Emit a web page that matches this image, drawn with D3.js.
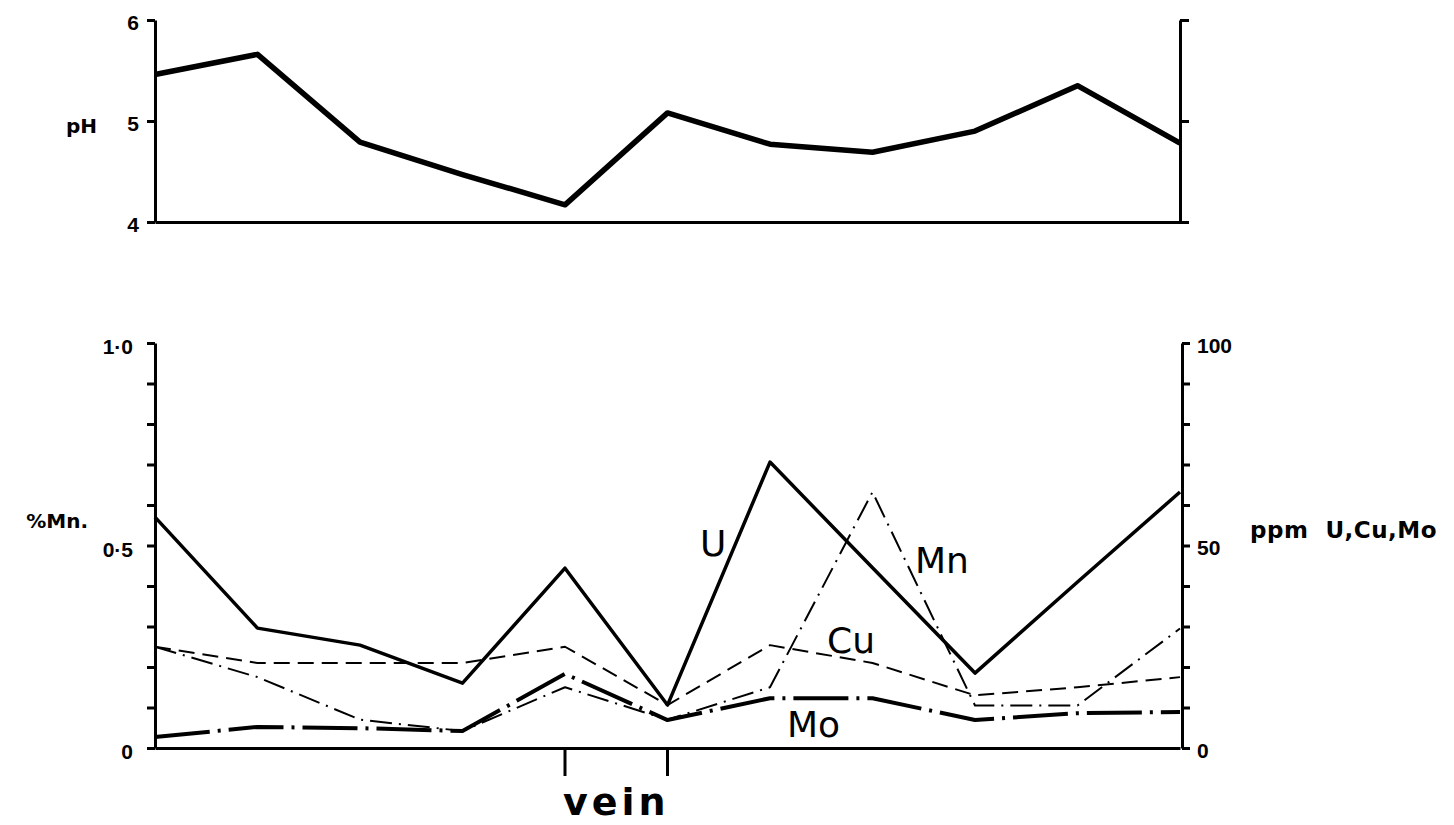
<!DOCTYPE html>
<html>
<head>
<meta charset="utf-8">
<script src="https://cdn.jsdelivr.net/npm/d3@7"></script>
<style>
  body { margin: 0; background: #fff; }
  svg { display: block; font-family: 'DejaVu Sans', sans-serif; }
  .axis path, .axis line { stroke: #000; stroke-width: 3; }
  .axis .tick text { font-size: 21px; font-weight: bold; fill: #000; }
  .label { font-size: 20px; font-weight: bold; fill: #000; }
  .series-label { font-size: 36px; fill: #000; }
</style>
</head>
<body>
<svg width="1454" height="825"></svg>
<script>
// sample stations along the traverse (vein between stations 5 and 6)
const samples = [1, 2, 3, 4, 5, 6, 7, 8, 9, 10, 11];
const veinStations = [5, 6];

const pH   = [5.46, 5.66, 4.79, 4.47, 4.17, 5.08, 4.77, 4.69, 4.90, 5.35, 4.78];
const uPpm = [57, 29.6, 25.4, 16, 44.4, 10.6, 70.6, 44.5, 18.5, 41, 63.2];
const cuPpm = [25, 21, 21, 21, 25, 10.6, 25.4, 21, 13, 15, 17.5];
const moPpm = [2.7, 5.2, 4.9, 4.2, 18.3, 6.9, 12.3, 12.3, 6.9, 8.6, 8.9];
const mnPct = [0.25, 0.175, 0.07, 0.042, 0.15, 0.07, 0.15, 0.632, 0.105, 0.105, 0.295];

const pHTicks = [4, 5, 6];
const mnTicks = [0, 0.1, 0.2, 0.3, 0.4, 0.5, 0.6, 0.7, 0.8, 0.9, 1.0];
const mnLabels = [0, 0.5, 1.0];
const ppmTicks = [0, 10, 20, 30, 40, 50, 60, 70, 80, 90, 100];
const ppmLabels = [0, 50, 100];

const svg = d3.select('svg');

const xScale = d3.scaleLinear()
  .domain([1, 11])
  .range([155, 1180]);

// ---- top panel: pH ----
const yPH = d3.scaleLinear().domain([4, 6]).range([222, 20]);

svg.append('g')
  .attr('class', 'axis')
  .attr('transform', 'translate(155,0)')
  .call(d3.axisLeft(yPH).tickValues(pHTicks).tickSize(8).tickSizeOuter(0).tickPadding(8)
    .tickFormat(d3.format('d')))
  .selectAll('.tick text').attr('dy', '0.45em');

svg.append('g')
  .attr('class', 'axis')
  .attr('transform', 'translate(1180,0)')
  .call(d3.axisRight(yPH).tickValues(pHTicks).tickSize(9).tickSizeOuter(0).tickFormat(''));

svg.append('g')
  .attr('class', 'axis')
  .attr('transform', 'translate(0,222)')
  .call(d3.axisBottom(xScale).tickValues([]).tickSizeOuter(0));

const pHLine = d3.line()
  .x((d, i) => xScale(samples[i]))
  .y(d => yPH(d));

svg.append('path')
  .attr('d', pHLine(pH))
  .attr('fill', 'none')
  .attr('stroke', '#000')
  .attr('stroke-width', 5.5)
  .attr('stroke-linejoin', 'round');

svg.append('text')
  .attr('class', 'label')
  .attr('x', 97)
  .attr('y', 133)
  .attr('text-anchor', 'end')
  .text('pH');

// ---- bottom panel: Mn %, U Cu Mo ppm ----
const yMn = d3.scaleLinear().domain([0, 1]).range([748, 343]);
const yPpm = d3.scaleLinear().domain([0, 100]).range([748, 343]);

svg.append('g')
  .attr('class', 'axis')
  .attr('transform', 'translate(155,0)')
  .call(d3.axisLeft(yMn).tickValues(mnTicks).tickSize(8).tickSizeOuter(0).tickPadding(14)
    .tickFormat(d => mnLabels.some(v => Math.abs(v - d) < 1e-9) ? (d === 0 ? '0' : d3.format('.1f')(d).replace('.', '·')) : ''))
  .selectAll('.tick text').attr('dy', '0.5em');

svg.append('g')
  .attr('class', 'axis')
  .attr('transform', 'translate(1182,0)')
  .call(d3.axisRight(yPpm).tickValues(ppmTicks).tickSize(8).tickSizeOuter(0).tickPadding(7)
    .tickFormat(d => ppmLabels.includes(d) ? d : ''))
  .selectAll('.tick text').attr('dy', '0.45em');

svg.append('g')
  .attr('class', 'axis')
  .attr('transform', 'translate(0,748)')
  .call(d3.axisBottom(xScale).tickValues([]).tickSizeOuter(0));

// vein markers below the axis
svg.append('g')
  .selectAll('line')
  .data(veinStations)
  .join('line')
    .attr('x1', d => xScale(d))
    .attr('x2', d => xScale(d))
    .attr('y1', 750)
    .attr('y2', 776)
    .attr('stroke', '#000')
    .attr('stroke-width', 3);

svg.append('text')
  .attr('x', (xScale(veinStations[0]) + xScale(veinStations[1])) / 2)
  .attr('y', 815)
  .attr('text-anchor', 'middle')
  .attr('font-size', 38)
  .attr('font-weight', 'bold')
  .attr('letter-spacing', 4)
  .text('vein');

const ppmLine = d3.line()
  .x((d, i) => xScale(samples[i]))
  .y(d => yPpm(d));
const mnLine = d3.line()
  .x((d, i) => xScale(samples[i]))
  .y(d => yMn(d));

const series = [
  { values: cuPpm, gen: ppmLine, width: 2, dash: '16 8' },
  { values: mnPct, gen: mnLine, width: 2, dash: '22 7 2 7' },
  { values: moPpm, gen: ppmLine, width: 4, dash: '55 8 3 8' },
  { values: uPpm, gen: ppmLine, width: 3.5, dash: null }
];

svg.append('g')
  .selectAll('path')
  .data(series)
  .join('path')
    .attr('d', d => d.gen(d.values))
    .attr('fill', 'none')
    .attr('stroke', '#000')
    .attr('stroke-width', d => d.width)
    .attr('stroke-dasharray', d => d.dash)
    .attr('stroke-linejoin', 'round');

const seriesLabels = [
  { text: 'U', x: 700, y: 556 },
  { text: 'Mn', x: 915, y: 573 },
  { text: 'Cu', x: 827, y: 653 },
  { text: 'Mo', x: 787, y: 737 }
];

svg.append('g')
  .selectAll('text')
  .data(seriesLabels)
  .join('text')
    .attr('class', 'series-label')
    .attr('x', d => d.x)
    .attr('y', d => d.y)
    .text(d => d.text);

svg.append('text')
  .attr('class', 'label')
  .attr('x', 88)
  .attr('y', 528)
  .attr('text-anchor', 'end')
  .text('%Mn.');

svg.append('text')
  .attr('class', 'label')
  .attr('x', 1250)
  .attr('y', 538)
  .attr('font-size', 23)
  .attr('letter-spacing', 0.5)
  .style('font-size', '23px')
  .style('white-space', 'pre')
  .text('ppm  U,Cu,Mo');
</script>
</body>
</html>
